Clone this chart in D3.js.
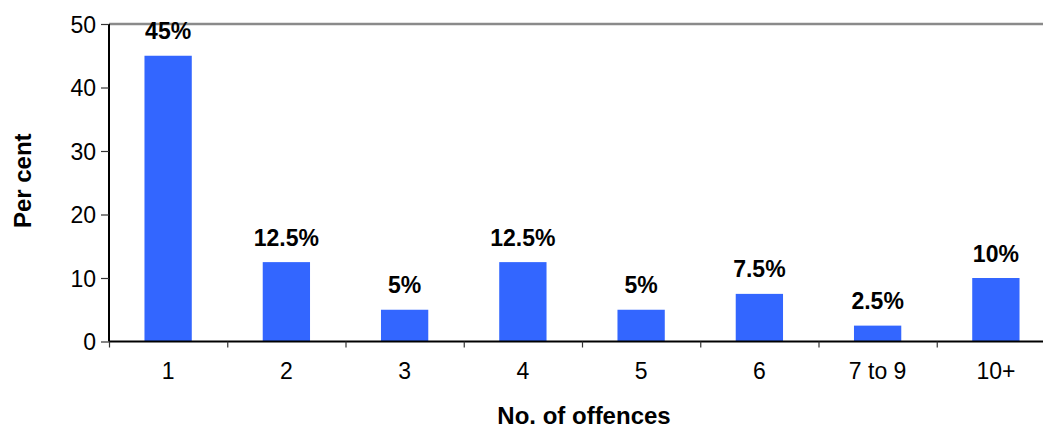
<!DOCTYPE html>
<html>
<head>
<meta charset="utf-8">
<script src="https://cdn.jsdelivr.net/npm/d3@7"></script>
<style>
  html, body { margin: 0; padding: 0; background: #fff; overflow: hidden; }
  svg { display: block; font-family: "Liberation Sans", Arial, sans-serif; }
</style>
</head>
<body>
<svg id="chart" width="1043" height="428"></svg>
<script>
const categories = ["1", "2", "3", "4", "5", "6", "7 to 9", "10+"];
const values = [45, 12.5, 5, 12.5, 5, 7.5, 2.5, 10];
const valueLabels = ["45%", "12.5%", "5%", "12.5%", "5%", "7.5%", "2.5%", "10%"];
const yTicks = [0, 10, 20, 30, 40, 50];

const svg = d3.select("#chart");
const pLeft = 109, pRight = 1055, pTop = 24, pBottom = 341.5;

const x = d3.scaleBand().domain(categories).range([pLeft, pRight])
  .paddingInner(0.6).paddingOuter(0.3);
const xb = d3.scaleLinear().domain([0, categories.length]).range([pLeft, pRight]);
const y = d3.scaleLinear().domain([0, 50]).range([pBottom, pTop]);

// top border
svg.append("line")
  .attr("x1", pLeft).attr("x2", pRight).attr("y1", pTop).attr("y2", pTop)
  .attr("stroke", "#8a8a8a").attr("stroke-width", 2.5);

// bars
svg.append("g").selectAll("rect").data(values).join("rect")
  .attr("x", (d, i) => x(categories[i]))
  .attr("width", x.bandwidth())
  .attr("y", d => y(d))
  .attr("height", d => y(0) - y(d))
  .attr("fill", "#3366ff");

// value labels
svg.append("g").selectAll("text").data(values).join("text")
  .attr("x", (d, i) => x(categories[i]) + x.bandwidth() / 2)
  .attr("y", d => y(d) - 16.5)
  .attr("text-anchor", "middle")
  .attr("font-size", 23).attr("font-weight", "bold").attr("fill", "#000")
  .text((d, i) => valueLabels[i]);

// y axis
const yAxis = svg.append("g").attr("transform", `translate(${pLeft},0)`)
  .call(d3.axisLeft(y).tickValues(yTicks).tickSize(8).tickPadding(5).tickFormat(d3.format("d")));
yAxis.select(".domain").attr("stroke", "#000").attr("stroke-width", 2)
  .attr("d", `M0,${pTop}V${pBottom}`);
yAxis.selectAll(".tick line").attr("stroke", "#333").attr("stroke-width", 1.2);
yAxis.selectAll(".tick text").attr("font-size", 23).attr("fill", "#000")
  .attr("font-family", "Liberation Sans, Arial, sans-serif").attr("dy", "0.35em");

// x axis (ticks at band boundaries)
const xAxis = svg.append("g").attr("transform", `translate(0,${pBottom})`)
  .call(d3.axisBottom(xb).tickValues(d3.range(0, categories.length + 1)).tickSize(6).tickFormat(""));
xAxis.select(".domain").attr("stroke", "#000").attr("stroke-width", 2)
  .attr("d", `M${pLeft},0H${pRight}`);
xAxis.selectAll(".tick line").attr("stroke", "#333").attr("stroke-width", 1.2);

// x category labels
const xLab = svg.append("g").attr("transform", `translate(0,${pBottom})`)
  .call(d3.axisBottom(x).tickSize(0).tickPadding(0));
xLab.select(".domain").remove();
xLab.selectAll(".tick text").attr("font-size", 23).attr("fill", "#000")
  .attr("font-family", "Liberation Sans, Arial, sans-serif")
  .attr("dy", null).attr("y", 379 - pBottom);

// axis titles
svg.append("text")
  .attr("x", (pLeft + pRight) / 2 + 2).attr("y", 424)
  .attr("text-anchor", "middle").attr("font-size", 24).attr("font-weight", "bold")
  .text("No. of offences");

svg.append("text")
  .attr("transform", `translate(31,${(pTop + pBottom) / 2 - 2}) rotate(-90)`)
  .attr("text-anchor", "middle").attr("font-size", 24).attr("font-weight", "bold")
  .text("Per cent");
</script>
</body>
</html>
